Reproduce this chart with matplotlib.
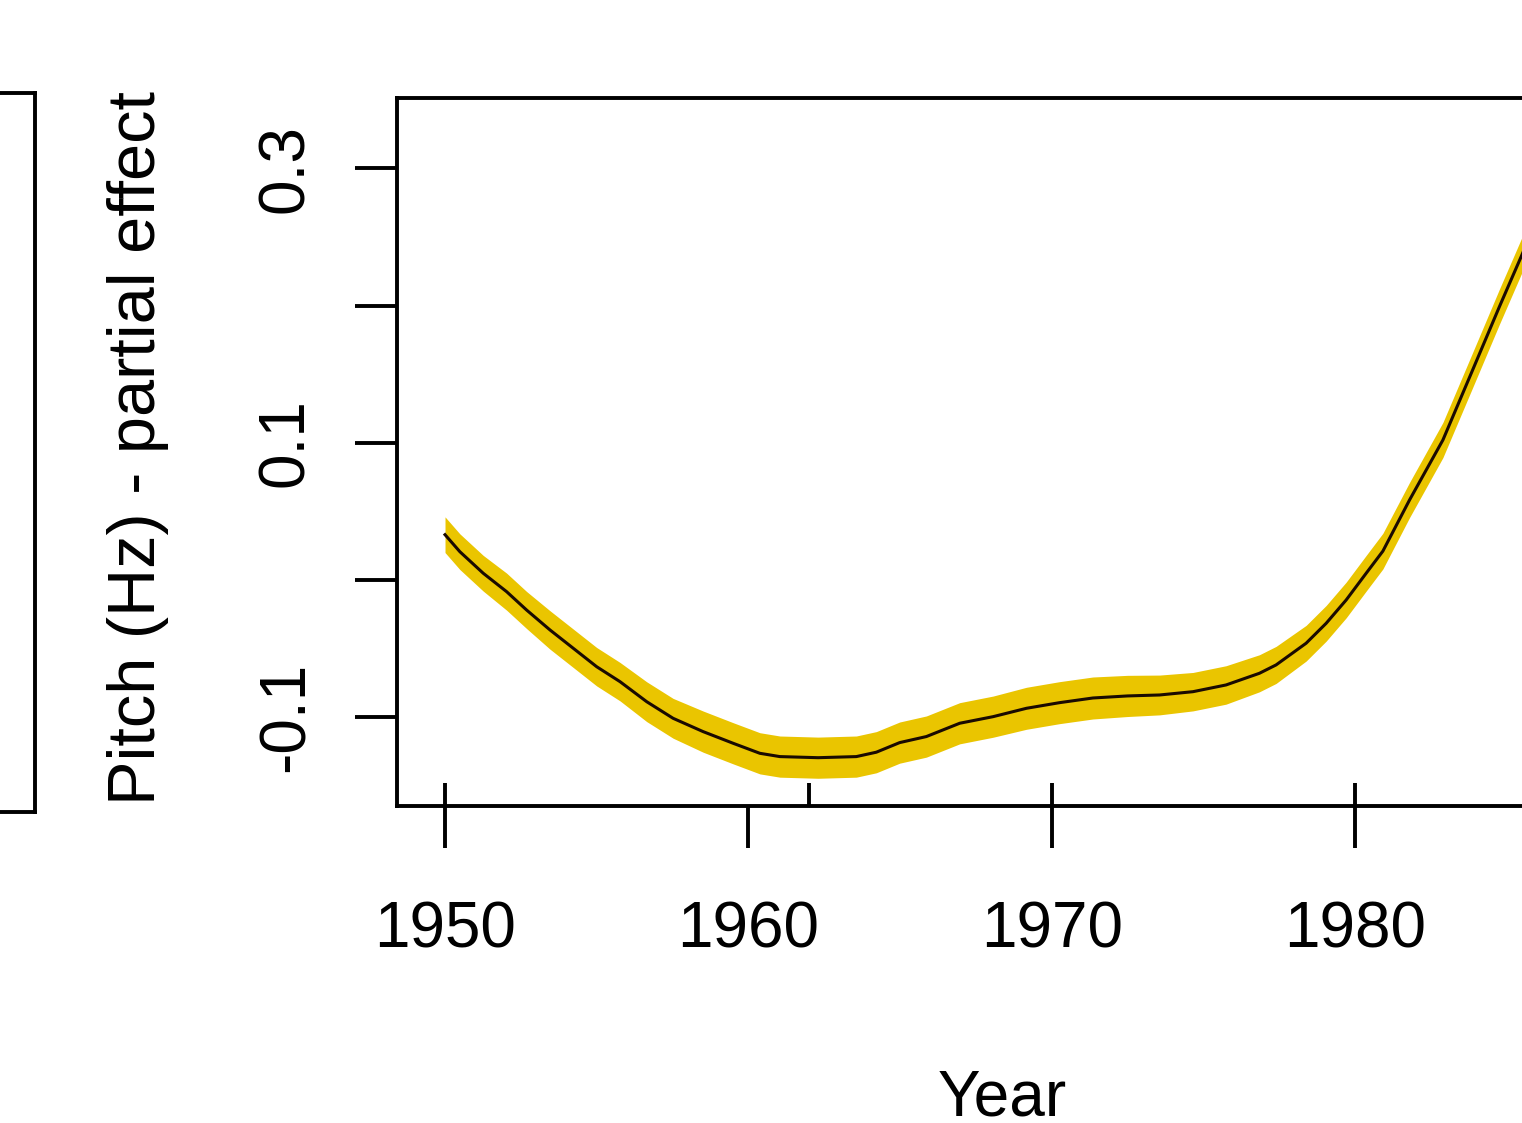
import matplotlib
matplotlib.use("Agg")
import matplotlib.pyplot as plt
import numpy as np

# ---- data ----
years = [1950.0, 1950.49, 1951.26, 1952.03, 1952.69, 1953.46, 1954.23, 1955.0,
         1955.77, 1956.65, 1957.52, 1958.51, 1959.5, 1960.38, 1961.04, 1962.3,
         1963.56, 1964.22, 1964.99, 1965.87, 1966.97, 1968.07, 1969.17, 1970.26,
         1971.36, 1972.5, 1973.56, 1974.66, 1975.75, 1976.85, 1977.4, 1978.39,
         1979.05, 1979.71, 1980.37, 1980.92, 1981.8, 1982.9, 1983.88, 1984.76,
         1985.48, 1986.9]
effect = [0.033, 0.0206, 0.0049, -0.0085, -0.0219, -0.0364, -0.0498, -0.0632,
          -0.0741, -0.0887, -0.1008, -0.1105, -0.119, -0.1263, -0.1287, -0.1295,
          -0.1287, -0.1255, -0.1185, -0.1141, -0.1044, -0.0996, -0.0935, -0.0894,
          -0.086, -0.0845, -0.0838, -0.0814, -0.0765, -0.068, -0.0619, -0.0461,
          -0.0316, -0.0146, 0.0049, 0.021, 0.0583, 0.102, 0.153, 0.199,
          0.2356, 0.31]
half_width = [0.013, 0.013, 0.013, 0.0135, 0.0135, 0.014, 0.014, 0.014,
              0.014, 0.0145, 0.0145, 0.015, 0.015, 0.015, 0.015, 0.015,
              0.015, 0.015, 0.015, 0.015, 0.015, 0.015, 0.0153, 0.0153,
              0.0153, 0.015, 0.0145, 0.014, 0.014, 0.0135, 0.0135, 0.013,
              0.013, 0.013, 0.013, 0.013, 0.0128, 0.0128, 0.0128, 0.0128,
              0.0128, 0.013]
rug_years = [1950, 1962, 1970, 1980]
xticks = [1950, 1960, 1970, 1980]
yticks = [-0.1, 0.0, 0.1, 0.2, 0.3]
ytick_labels = ["-0.1", "", "0.1", "", "0.3"]
xlabel = "Year"
ylabel = "Pitch (Hz) - partial effect"

plt.rcParams['font.family'] = ['Liberation Sans', 'DejaVu Sans']

W, H = 1522, 1123
fig = plt.figure(figsize=(W / 100, H / 100), dpi=100)

# left (cut-off) panel box
axl = fig.add_axes([-0.3, 1 - 812 / H, 0.3 + 35 / W, (812 - 93) / H])
axl.set_xticks([]); axl.set_yticks([])
for s in axl.spines.values():
    s.set_linewidth(2.8)

# main panel
ax = fig.add_axes([397 / W, 1 - 806 / H, 1210 / W, 708 / H])
yr = np.array(years); ef = np.array(effect); hw = np.array(half_width)
ax.fill_between(yr, ef - hw, ef + hw, color='#EAC500', linewidth=0)
ax.plot(yr, ef, color='#1a0a00', linewidth=2.2, solid_joinstyle='round')
ax.vlines(rug_years, 0, 23 / 708, transform=ax.get_xaxis_transform(),
          color='black', linewidth=2.8)

ax.set_xlim(1948.417, 1988.31)
ax.set_ylim(-0.1647, 0.3512)
ax.set_xticks(xticks)
ax.set_xticklabels([str(t) for t in xticks])
ax.set_yticks(yticks)
ax.set_yticklabels(ytick_labels, rotation=90, va='center')
ax.tick_params(axis='both', length=30.2, width=2.8, labelsize=46)
ax.tick_params(axis='x', pad=38)
ax.tick_params(axis='y', pad=28)
for s in ax.spines.values():
    s.set_linewidth(2.8)

fig.text(1002 / W, 1 - 1115 / H, xlabel, fontsize=46, ha='center', va='baseline')
fig.text(138 / W, 1 - 448 / H, ylabel, fontsize=48, rotation=90,
         ha='center', va='center')

fig.savefig("out.png", dpi=100, facecolor='white')
